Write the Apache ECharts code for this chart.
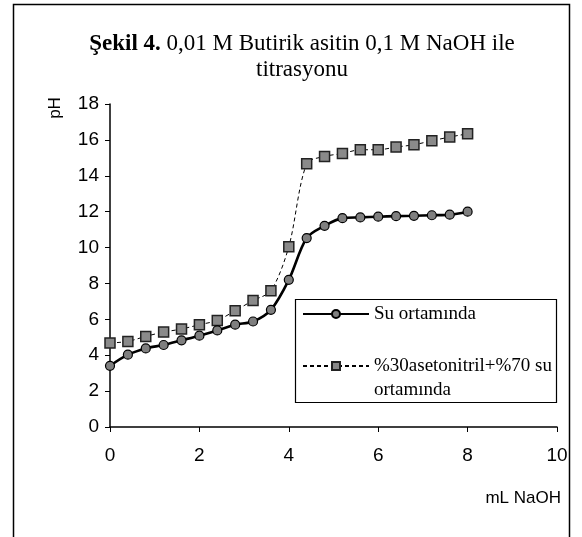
<!DOCTYPE html>
<html>
<head>
<meta charset="utf-8">
<script src="https://cdn.jsdelivr.net/npm/echarts@6/dist/echarts.min.js"></script>
<style>html,body{margin:0;padding:0;background:#fff;}#c{width:582px;height:537px;}</style>
</head>
<body>
<div id="c"></div>
<script>
var mlNaOH = [0, 0.4, 0.8, 1.2, 1.6, 2.0, 2.4, 2.8, 3.2, 3.6, 4.0, 4.4, 4.8, 5.2, 5.6, 6.0, 6.4, 6.8, 7.2, 7.6, 8.0];
var suOrtaminda = [3.41, 4.03, 4.38, 4.57, 4.83, 5.09, 5.38, 5.70, 5.88, 6.53, 8.2, 10.53, 11.21, 11.64, 11.68, 11.72, 11.75, 11.77, 11.8, 11.83, 12.0];
var asetonitril = [4.68, 4.77, 5.05, 5.29, 5.46, 5.70, 5.94, 6.48, 7.05, 7.59, 10.05, 14.67, 15.08, 15.24, 15.45, 15.45, 15.6, 15.73, 15.95, 16.16, 16.34];
var seriesNames = ['Su ortamında', '%30asetonitril+%70 su ortamında'];
var legendLabels = ['Su ortamında', '%30asetonitril+%70 su\nortamında'];
var titleLines = ['Şekil 4.', ' 0,01 M Butirik asitin 0,1 M NaOH ile', 'titrasyonu'];
var yAxisName = 'pH';
var xAxisName = 'mL NaOH';

function pairs(xs, ys) { return xs.map(function (x, i) { return [x, ys[i]]; }); }

var chart = echarts.init(document.getElementById('c'), null, {renderer: 'canvas'});
var serif = '"Liberation Serif", "Times New Roman", serif';
var sans = '"Liberation Sans", Arial, sans-serif';

chart.setOption({
  animation: false,
  backgroundColor: '#fff',
  grid: {left: 110, right: 25, top: 104, bottom: 110},
  xAxis: {
    type: 'value', min: 0, max: 10, interval: 2,
    axisLine: {lineStyle: {color: '#000', width: 1.5}},
    axisTick: {show: true, length: 5, lineStyle: {color: '#000', width: 1}},
    axisLabel: {color: '#000', fontFamily: sans, fontSize: 19, margin: 19},
    splitLine: {show: false}
  },
  yAxis: {
    type: 'value', min: 0, max: 18, interval: 2,
    axisLine: {show: true, lineStyle: {color: '#000', width: 1.5}},
    axisTick: {show: true, length: 5, lineStyle: {color: '#000', width: 1}},
    axisLabel: {color: '#000', fontFamily: sans, fontSize: 19, margin: 11},
    splitLine: {show: false}
  },
  legend: [{
    orient: 'vertical', left: 302, top: 303, padding: 0,
    itemWidth: 66, itemHeight: 10,
    data: [seriesNames[0]],
    formatter: function () { return legendLabels[0]; },
    textStyle: {color: '#000', fontFamily: serif, fontSize: 19, lineHeight: 22}
  }, {
    orient: 'vertical', left: 302, top: 330, padding: 0,
    itemWidth: 66, itemHeight: 10,
    data: [seriesNames[1]],
    formatter: function () { return '\n' + legendLabels[1]; },
    textStyle: {color: '#000', fontFamily: serif, fontSize: 19, lineHeight: 24}
  }],
  graphic: [
    {type: 'rect', shape: {x: 13.5, y: 4.5, width: 556, height: 560}, style: {fill: 'none', stroke: '#000', lineWidth: 1.5}, silent: true},
    {type: 'rect', shape: {x: 295.5, y: 299.5, width: 261, height: 103}, style: {fill: 'none', stroke: '#000', lineWidth: 1.2}, silent: true},
    {type: 'text', x: 302, y: 31, style: {
      text: '{b|' + titleLines[0] + '}{n|' + titleLines[1] + '}\n{n|' + titleLines[2] + '}',
      align: 'center', verticalAlign: 'top',
      rich: {
        b: {fontFamily: serif, fontSize: 23, fontWeight: 'bold', lineHeight: 26, fill: '#000'},
        n: {fontFamily: serif, fontSize: 23, lineHeight: 26, fill: '#000'}
      }
    }},
    {type: 'text', x: 55, y: 108, rotation: Math.PI / 2, style: {
      text: yAxisName, align: 'center', verticalAlign: 'middle', fontFamily: sans, fontSize: 17, fill: '#000'
    }},
    {type: 'text', x: 561, y: 498, style: {
      text: xAxisName, align: 'right', verticalAlign: 'middle', fontFamily: sans, fontSize: 17, fill: '#000'
    }}
  ],
  series: [{
    name: seriesNames[0], type: 'line', smooth: 0.3,
    data: pairs(mlNaOH, suOrtaminda),
    symbol: 'circle', symbolSize: 9,
    lineStyle: {color: '#000', width: 2.6},
    itemStyle: {color: '#7f7f7f', borderColor: '#000', borderWidth: 1.2},
    z: 3
  }, {
    name: seriesNames[1], type: 'line', smooth: 0.3,
    data: pairs(mlNaOH, asetonitril),
    symbol: 'rect', symbolSize: 10,
    lineStyle: {color: '#000', width: 1, type: [4, 3]},
    itemStyle: {color: '#8a8a8a', borderColor: '#222', borderWidth: 1.5},
    z: 2
  }]
});
</script>
</body>
</html>
